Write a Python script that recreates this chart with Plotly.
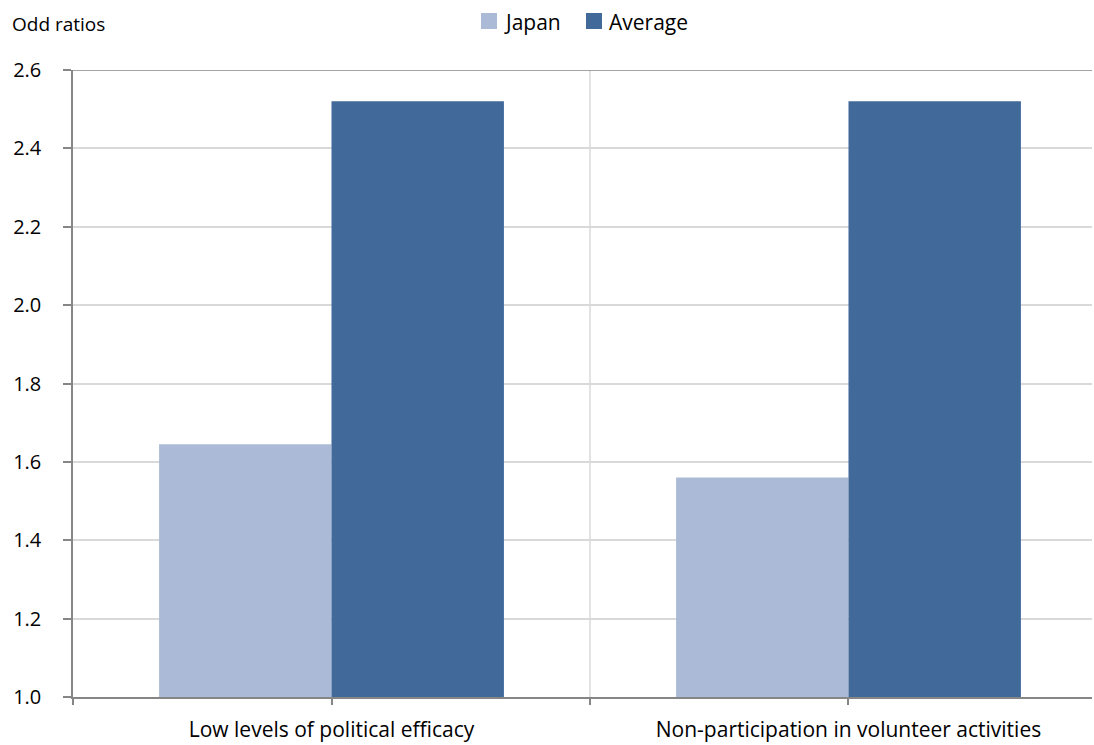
import plotly.graph_objects as go

# Odds ratios by outcome
categories = ["Low levels of political efficacy", "Non-participation in volunteer activities"]
japan = [1.645, 1.56]
average = [2.52, 2.52]
y_ticks = [1.0, 1.2, 1.4, 1.6, 1.8, 2.0, 2.2, 2.4, 2.6]
series_names = ["Japan", "Average"]
series_colors = ["#abbad6", "#41699a"]

FONT = "Open Sans"
AXIS_GREY = "#868686"
GRID_GREY = "#d9d9d9"

W, H = 1094, 745
L, R, T, B = 73, 2, 70, 48
PW, PH = W - L - R, H - T - B


def px_x(px):
    return (px - L) / PW


def px_y(py):
    return (H - B - py) / PH


xpos = list(range(len(categories)))

fig = go.Figure()
for name, vals, col in zip(series_names, [japan, average], series_colors):
    fig.add_trace(go.Bar(name=name, x=xpos, y=vals, marker=dict(color=col, line=dict(width=0)),
                         showlegend=False))

# tick marks at category centres and boundaries, labels only at centres
tickvals = [-0.5, 0, 0.5, 1, 1.5]
ticktext = ["", categories[0], "", categories[1], ""]

shapes = [
    # vertical divider between the two categories
    dict(type="line", xref="x", yref="paper", x0=0.5, x1=0.5, y0=0, y1=1,
         line=dict(color=GRID_GREY, width=1.5), layer="below"),
    # top border of the plot area
    dict(type="line", xref="paper", yref="y", x0=0, x1=1, y0=2.6, y1=2.6,
         line=dict(color=AXIS_GREY, width=1.5), layer="above"),
]
annotations = [
    dict(text="Odd ratios", xref="paper", yref="paper", x=px_x(10), y=px_y(24),
         xanchor="left", yanchor="middle", showarrow=False, font=dict(size=19, family=FONT)),
]

# legend keys along the top
legend_items = [(481, 502), (586, 607)]
for (sx, tx), name, col in zip(legend_items, series_names, series_colors):
    shapes.append(dict(type="rect", xref="paper", yref="paper",
                       x0=px_x(sx), x1=px_x(sx + 16), y0=px_y(29), y1=px_y(13),
                       fillcolor=col, line=dict(width=0)))
    annotations.append(dict(text=name, xref="paper", yref="paper", x=px_x(tx), y=px_y(22),
                            xanchor="left", yanchor="middle", showarrow=False,
                            font=dict(size=21, family=FONT)))

fig.update_layout(
    width=W, height=H,
    margin=dict(l=L, r=R, t=T, b=B),
    paper_bgcolor="white", plot_bgcolor="white",
    barmode="group", bargap=0.333, bargroupgap=0,
    font=dict(family=FONT, color="#000000", size=18),
    xaxis=dict(type="linear", range=[-0.5, 1.471], tickvals=tickvals, ticktext=ticktext,
               automargin=False,
               showgrid=False, zeroline=False, showline=True, linecolor=AXIS_GREY, linewidth=1.5,
               ticks="outside", ticklen=6, tickcolor=AXIS_GREY, tickwidth=1.5,
               tickfont=dict(size=21, family=FONT), ticklabelstandoff=7),
    yaxis=dict(range=[1.0, 2.6], tickvals=y_ticks, tickformat=".1f",
               automargin=False,
               showgrid=True, gridcolor=GRID_GREY, gridwidth=1.5, zeroline=False,
               showline=True, linecolor=AXIS_GREY, linewidth=1.5,
               ticks="outside", ticklen=8, tickcolor=AXIS_GREY, tickwidth=1.5,
               tickfont=dict(size=20, family=FONT), ticklabelstandoff=18),
    shapes=shapes,
    annotations=annotations,
)

fig.write_html("out.html")
